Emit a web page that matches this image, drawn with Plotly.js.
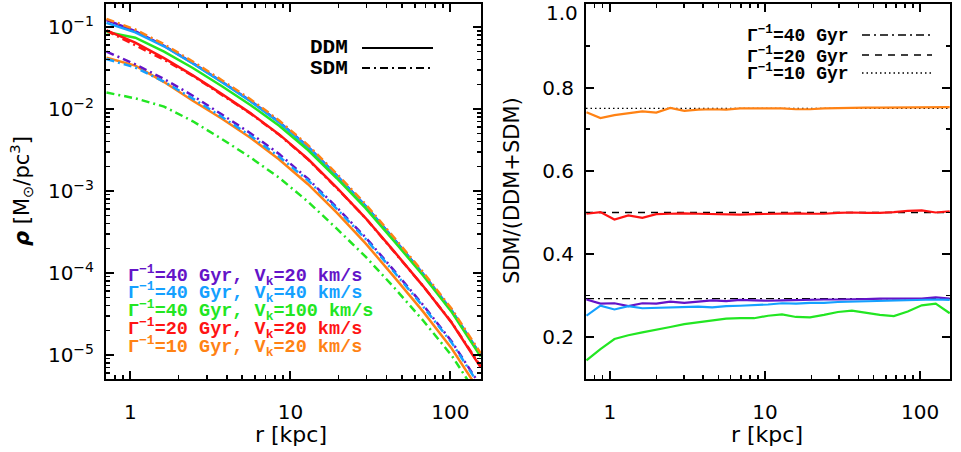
<!DOCTYPE html>
<html><head><meta charset="utf-8">
<script src="https://cdn.plot.ly/plotly-3.0.1.min.js"></script>
<style>html,body{margin:0;padding:0;background:#fff}</style>
</head><body><div id="chart" style="width:961px;height:452px"></div>
<script>
// ---------- data ----------
// radii for the density profiles (kpc)
const rDens = [0.708, 1.072, 1.622, 2.455, 3.715, 5.623, 8.511, 12.88, 19.50, 29.51, 44.67, 67.61, 102.3, 154.9];
// radii for the ratio profiles (kpc)
const rRatio = [0.708, 0.871, 1.072, 1.318, 1.622, 1.995, 2.455, 3.020, 3.715, 4.571, 5.623, 6.918, 8.511, 10.47,
                12.88, 15.85, 19.50, 23.99, 29.51, 36.31, 44.67, 54.95, 67.61, 83.18, 102.3, 125.9, 154.9];

// densities [Msun/pc^3]
const ddmPurple = [1.216e-1, 8.91e-2, 5.89e-2, 3.63e-2, 2.16e-2, 1.26e-2, 6.92e-3, 3.47e-3, 1.55e-3, 6.61e-4, 2.57e-4, 9.77e-5, 3.47e-5, 1.00e-5];
const sdmPurple = [5.01e-2, 3.51e-2, 2.32e-2, 1.45e-2, 8.61e-3, 5.07e-3, 2.82e-3, 1.41e-3, 6.31e-4, 2.72e-4, 1.06e-4, 4.07e-5, 1.45e-5, 4.17e-6];
const ddmBlue   = [1.122e-1, 8.61e-2, 5.82e-2, 3.59e-2, 2.14e-2, 1.245e-2, 6.84e-3, 3.43e-3, 1.53e-3, 6.53e-4, 2.54e-4, 9.66e-5, 3.43e-5, 9.89e-6];
const sdmBlue   = [4.07e-2, 3.20e-2, 2.15e-2, 1.34e-2, 8.05e-3, 4.72e-3, 2.62e-3, 1.35e-3, 6.05e-4, 2.61e-4, 1.02e-4, 3.91e-5, 1.40e-5, 4.04e-6];
const ddmGreen  = [8.71e-2, 7.41e-2, 5.01e-2, 3.16e-2, 1.91e-2, 1.12e-2, 6.24e-3, 3.16e-3, 1.43e-3, 6.17e-4, 2.43e-4, 9.33e-5, 3.31e-5, 9.55e-6];
const sdmGreen  = [1.585e-2, 1.35e-2, 1.07e-2, 7.08e-3, 4.32e-3, 2.57e-3, 1.45e-3, 7.41e-4, 3.47e-4, 1.585e-4, 6.61e-5, 2.63e-5, 9.77e-6, 2.82e-6];
const ddmRed    = [9.12e-2, 6.46e-2, 4.17e-2, 2.57e-2, 1.53e-2, 8.91e-3, 4.90e-3, 2.455e-3, 1.096e-3, 4.68e-4, 1.82e-4, 6.92e-5, 2.455e-5, 7.08e-6];
const sdmRed    = [9.02e-2, 6.03e-2, 3.98e-2, 2.54e-2, 1.51e-2, 8.81e-3, 4.84e-3, 2.43e-3, 1.084e-3, 4.68e-4, 1.80e-4, 6.92e-5, 2.48e-5, 7.24e-6];
const ddmOrange = [4.22e-2, 3.38e-2, 2.13e-2, 1.262e-2, 7.67e-3, 4.47e-3, 2.415e-3, 1.21e-3, 5.46e-4, 2.30e-4, 8.89e-5, 3.38e-5, 1.19e-5, 3.44e-6];
const sdmOrange = [1.259e-1, 9.33e-2, 6.17e-2, 3.80e-2, 2.26e-2, 1.318e-2, 7.24e-3, 3.63e-3, 1.62e-3, 6.92e-4, 2.69e-4, 1.023e-4, 3.63e-5, 1.047e-5];

// SDM/(DDM+SDM)
const ratioPurple = [0.291, 0.281, 0.282, 0.275, 0.282, 0.281, 0.286, 0.283, 0.286, 0.289, 0.287, 0.290, 0.289, 0.288,
                     0.289, 0.290, 0.290, 0.291, 0.291, 0.291, 0.292, 0.293, 0.293, 0.294, 0.293, 0.296, 0.293];
const ratioBlue   = [0.252, 0.276, 0.267, 0.275, 0.270, 0.271, 0.272, 0.273, 0.274, 0.272, 0.275, 0.276, 0.277, 0.279,
                     0.282, 0.281, 0.283, 0.283, 0.285, 0.286, 0.287, 0.287, 0.288, 0.289, 0.290, 0.291, 0.290];
const ratioGreen  = [0.145, 0.172, 0.196, 0.205, 0.212, 0.218, 0.225, 0.232, 0.236, 0.240, 0.245, 0.246, 0.246, 0.252,
                     0.255, 0.249, 0.248, 0.254, 0.261, 0.264, 0.259, 0.254, 0.251, 0.262, 0.277, 0.281, 0.258];
const ratioRed    = [0.497, 0.501, 0.483, 0.493, 0.487, 0.496, 0.497, 0.498, 0.497, 0.496, 0.495, 0.495, 0.496, 0.497,
                     0.498, 0.498, 0.497, 0.497, 0.499, 0.500, 0.499, 0.499, 0.501, 0.504, 0.505, 0.500, 0.503];
const ratioOrange = [0.741, 0.727, 0.734, 0.739, 0.743, 0.740, 0.751, 0.744, 0.747, 0.748, 0.747, 0.750, 0.750, 0.750,
                     0.750, 0.748, 0.748, 0.750, 0.751, 0.751, 0.752, 0.752, 0.752, 0.753, 0.753, 0.753, 0.753];

// expected SDM fractions for the three lifetimes
const refLevels = [0.293, 0.500, 0.750];
const refLabels = ['Γ<sup>−1</sup>=40 Gyr', 'Γ<sup>−1</sup>=20 Gyr', 'Γ<sup>−1</sup>=10 Gyr'];

const modelLabels = ['Γ<sup>−1</sup>=40 Gyr, V<sub>k</sub>=20 km/s',
                     'Γ<sup>−1</sup>=40 Gyr, V<sub>k</sub>=40 km/s',
                     'Γ<sup>−1</sup>=40 Gyr, V<sub>k</sub>=100 km/s',
                     'Γ<sup>−1</sup>=20 Gyr, V<sub>k</sub>=20 km/s',
                     'Γ<sup>−1</sup>=10 Gyr, V<sub>k</sub>=20 km/s'];

const xTickVals = [1, 10, 100];
const xTickText = ['1', '10', '100'];
const yTickVals = [1e-5, 1e-4, 1e-3, 1e-2, 1e-1];
const yTickText = ['10<sup>−5</sup>', '10<sup>−4</sup>', '10<sup>−3</sup>', '10<sup>−2</sup>', '10<sup>−1</sup>'];
const y2TickVals = [0.2, 0.4, 0.6, 0.8, 1.0];
const y2TickText = ['0.2', '0.4', '0.6', '0.8', ''];   // top label "1.0" drawn as an annotation so it is not clipped
const y2TopLabel = '1.0';

// ---------- style ----------
const cPurple = '#6414c8', cBlue = '#14a0ff', cGreen = '#22e622', cRed = '#ff1414', cOrange = '#ff8214';
const DASHDOT = '8px,4px,2px,4px';
const W = 961, H = 452;
const px = v => v / W, py = v => 1 - v / H;

const models = [
  {ddm: ddmPurple, sdm: sdmPurple, ratio: ratioPurple, color: cPurple},
  {ddm: ddmBlue,   sdm: sdmBlue,   ratio: ratioBlue,   color: cBlue},
  {ddm: ddmGreen,  sdm: sdmGreen,  ratio: ratioGreen,  color: cGreen},
  {ddm: ddmRed,    sdm: sdmRed,    ratio: ratioRed,    color: cRed},
  {ddm: ddmOrange, sdm: sdmOrange, ratio: ratioOrange, color: cOrange}
];

const traces = [];
models.forEach(m => {
  traces.push({x: rDens, y: m.ddm, xaxis: 'x', yaxis: 'y', mode: 'lines', line: {color: m.color, width: 2.5}, hoverinfo: 'skip'});
});
models.forEach(m => {
  traces.push({x: rDens, y: m.sdm, xaxis: 'x', yaxis: 'y', mode: 'lines', line: {color: m.color, width: 2.5, dash: DASHDOT}, hoverinfo: 'skip'});
});
models.forEach(m => {
  traces.push({x: rRatio, y: m.ratio, xaxis: 'x2', yaxis: 'y2', mode: 'lines', line: {color: m.color, width: 2.2}, hoverinfo: 'skip'});
});

const refDash = [DASHDOT, '7px,6px', '1.5px,3px'];

const minorX = [0.8, 0.9, 2, 3, 4, 5, 6, 7, 8, 9, 20, 30, 40, 50, 60, 70, 80, 90];
const minorY = [];
for (let e = -6; e <= -1; e++) for (let k = 2; k <= 9; k++) minorY.push(k * Math.pow(10, e));

const tickFont = {family: 'DejaVu Sans', size: 20, color: '#000'};
const axisCommon = {showline: true, linecolor: '#000', linewidth: 2, mirror: 'allticks', ticks: 'inside',
  ticklen: 8, tickwidth: 2, tickcolor: '#000', showgrid: false, zeroline: false, tickfont: tickFont};

const xAx = (dom, anchor) => Object.assign({}, axisCommon, {
  type: 'log', range: [-0.153, 2.192], domain: dom, anchor: anchor,
  tickmode: 'array', tickvals: xTickVals, ticktext: xTickText, ticklabelstandoff: 14,
  minor: {tickmode: 'array', tickvals: minorX, ticks: 'inside', ticklen: 4, tickwidth: 1.5, tickcolor: '#000'}
});

const shapes = [];
refLevels.forEach((v, i) => {
  shapes.push({type: 'line', xref: 'x2 domain', yref: 'y2', x0: 0, x1: 1, y0: v, y1: v,
    line: {color: '#000', width: 1.3, dash: refDash[i]}, layer: 'below'});
});
// legend sample lines (right panel)
[35, 55, 73].forEach((yy, i) => {
  shapes.push({type: 'line', xref: 'paper', yref: 'paper', x0: px(862), x1: px(932), y0: py(yy), y1: py(yy),
    line: {color: '#000', width: 1.3, dash: refDash[i]}});
});
// legend sample lines (left panel)
shapes.push({type: 'line', xref: 'paper', yref: 'paper', x0: px(362), x1: px(433), y0: py(48), y1: py(48), line: {color: '#000', width: 2.2}});
shapes.push({type: 'line', xref: 'paper', yref: 'paper', x0: px(362), x1: px(433), y0: py(68), y1: py(68), line: {color: '#000', width: 2.2, dash: DASHDOT}});

const monoFont = (size, color) => ({family: 'Liberation Mono', size: size, color: color || '#000'});
const annotations = [];
annotations.push({xref: 'paper', yref: 'paper', x: px(350), y: py(48), xanchor: 'right', yanchor: 'middle', showarrow: false,
  text: '<b>DDM</b>', font: monoFont(21)});
annotations.push({xref: 'paper', yref: 'paper', x: px(350), y: py(68), xanchor: 'right', yanchor: 'middle', showarrow: false,
  text: '<b>SDM</b>', font: monoFont(21)});
[35, 55, 73].forEach((yy, i) => {
  annotations.push({xref: 'paper', yref: 'paper', x: px(851), y: py(yy), xanchor: 'right', yanchor: 'middle', showarrow: false,
    text: '<b>' + refLabels[i] + '</b>', font: monoFont(18)});
});
[275, 292.7, 310.5, 328.3, 346].forEach((yy, i) => {
  annotations.push({xref: 'paper', yref: 'paper', x: px(126), y: py(yy), xanchor: 'left', yanchor: 'middle', showarrow: false,
    text: '<b>' + modelLabels[i] + '</b>', font: monoFont(18.5, models[i].color)});
});
// top tick label of the right panel
annotations.push({xref: 'paper', yref: 'paper', x: px(579), y: py(0), xanchor: 'right', yanchor: 'top', showarrow: false,
  text: y2TopLabel, font: tickFont, borderpad: 0});
// axis titles
annotations.push({xref: 'paper', yref: 'paper', x: px(291), y: py(434), xanchor: 'center', yanchor: 'middle', showarrow: false,
  text: 'r [kpc]', font: {family: 'DejaVu Sans', size: 22, color: '#000'}});
annotations.push({xref: 'paper', yref: 'paper', x: px(767), y: py(434), xanchor: 'center', yanchor: 'middle', showarrow: false,
  text: 'r [kpc]', font: {family: 'DejaVu Sans', size: 22, color: '#000'}});
annotations.push({xref: 'paper', yref: 'paper', x: px(21), y: py(191), xanchor: 'center', yanchor: 'middle', showarrow: false,
  textangle: -90, text: '<b><i>ρ</i></b> [M<sub>⊙</sub>/pc<sup>3</sup>]', font: {family: 'DejaVu Sans', size: 21, color: '#000'}});
annotations.push({xref: 'paper', yref: 'paper', x: px(512), y: py(191), xanchor: 'center', yanchor: 'middle', showarrow: false,
  textangle: -90, text: 'SDM/(DDM+SDM)', font: {family: 'DejaVu Sans', size: 21, color: '#000'}});

const layout = {
  width: W, height: H, margin: {l: 0, r: 0, t: 0, b: 0},
  paper_bgcolor: '#fff', plot_bgcolor: '#fff', showlegend: false,
  xaxis: xAx([px(106), px(481)], 'y'),
  xaxis2: xAx([px(586), px(950)], 'y2'),
  yaxis: Object.assign({}, axisCommon, {
    type: 'log', range: [-5.293, -0.7195], domain: [py(379), py(4)], anchor: 'x',
    tickmode: 'array', tickvals: yTickVals, ticktext: yTickText, ticklabelstandoff: 6,
    minor: {tickmode: 'array', tickvals: minorY, ticks: 'inside', ticklen: 4, tickwidth: 1.5, tickcolor: '#000'}
  }),
  yaxis2: Object.assign({}, axisCommon, {
    type: 'linear', range: [0.1, 1.0008], domain: [py(379), py(4)], anchor: 'x2',
    tickmode: 'array', tickvals: y2TickVals, ticktext: y2TickText, ticklabelstandoff: 6,
    minor: {dtick: 0.1, ticks: 'inside', ticklen: 4, tickwidth: 1.5, tickcolor: '#000'}
  }),
  shapes: shapes,
  annotations: annotations
};

Plotly.newPlot('chart', traces, layout, {staticPlot: true, displayModeBar: false});
</script>
</body></html>
